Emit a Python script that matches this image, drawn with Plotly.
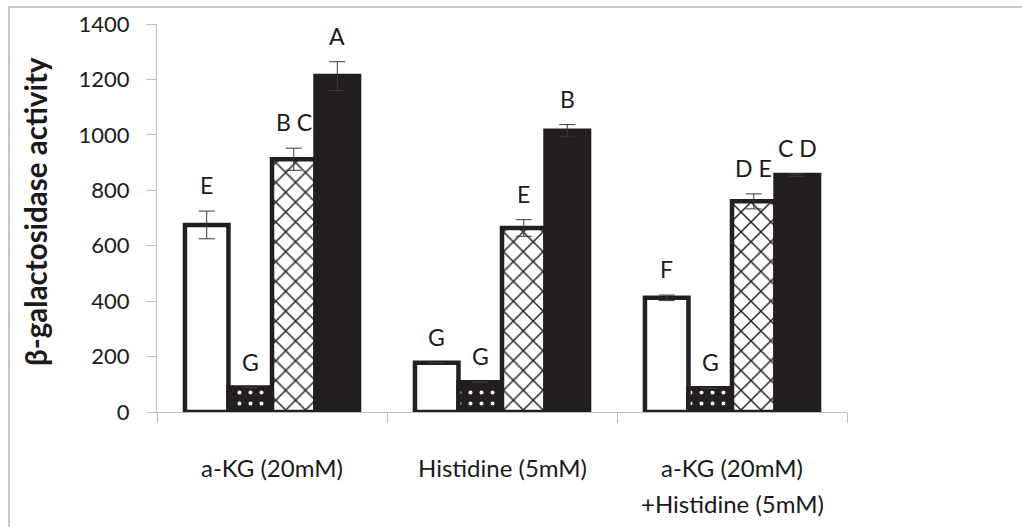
import plotly.graph_objects as go

categories = ["a-KG (20mM)", "Histidine (5mM)", "a-KG (20mM)<br>+Histidine (5mM)"]
series_names = ["white", "dotted", "cross", "black"]
values = {
    "white": [675, 178, 412],
    "dotted": [88, 107, 86],
    "cross": [912, 664, 760],
    "black": [1212, 1015, 855],
}
errors = {
    "white": [50, 0, 10],
    "dotted": [0, 0, 0],
    "cross": [40, 30, 27],
    "black": [52, 22, 5],
}
letters = {
    "white": ["E", "G", "F"],
    "dotted": ["G", "G", "G"],
    "cross": ["B C", "E", "D E"],
    "black": ["A", "B", "C D"],
}
y_ticks = [0, 200, 400, 600, 800, 1000, 1200, 1400]

INK = "#231f20"
FONT = "Lato"

styles = {
    "white": dict(color="white", line=dict(color=INK, width=4.5)),
    "dotted": dict(color=INK, line=dict(color=INK, width=4.5),
                   pattern=dict(shape=".", bgcolor=INK, fgcolor="white", size=11, solidity=0.1, fillmode="replace")),
    "cross": dict(color="white", line=dict(color=INK, width=4.5),
                  pattern=dict(shape="x", bgcolor="white", fgcolor=INK, size=14, solidity=0.2, fillmode="replace")),
    "black": dict(color=INK, line=dict(color=INK, width=4.5)),
}

fig = go.Figure()
for s in series_names:
    fig.add_trace(go.Bar(
        x=categories, y=values[s], name=s,
        marker=styles[s],
        error_y=dict(type="data", array=errors[s], visible=True, color="#3a3a3a", thickness=1, width=8),
        showlegend=False,
    ))

plot_w = 1022 - 157 - 175
plot_h = 527 - 24 - 115
cat_w = plot_w / len(categories)
bargap = 0.243
bar_w = cat_w * (1 - bargap) / len(series_names)
annotations = []
for i, s in enumerate(series_names):
    off = (i - (len(series_names) - 1) / 2) * bar_w
    for j, c in enumerate(categories):
        annotations.append(dict(
            x=c, y=values[s][j] + errors[s][j], xref="x", yref="y",
            text=letters[s][j], showarrow=False, xshift=off, yshift=26,
            yanchor="middle", xanchor="center",
            font=dict(family=FONT, size=23, color="#1a1a1a"),
        ))

# category labels (as annotations so that line spacing matches)
for c in categories:
    for k, line in enumerate(c.split("<br>")):
        annotations.append(dict(
            x=c, y=0, xref="x", yref="paper", text=line, showarrow=False,
            xanchor="center", yanchor="middle", yshift=-(55 + 36 * k),
            font=dict(family=FONT, size=24, color="#1a1a1a"),
        ))

annotations.append(dict(
    x=(35 - 157) / plot_w, y=(218 - 212) / plot_h + 0.5, xref="paper", yref="paper",
    text="<b>β-galactosidase activity</b>", textangle=-90, showarrow=False,
    xanchor="center", yanchor="middle",
    font=dict(family=FONT, size=29.5, color="#1a1a1a"),
))

fig.update_layout(
    width=1022, height=527, autosize=False,
    margin=dict(l=157, r=175, t=24, b=115, autoexpand=False),
    paper_bgcolor="white", plot_bgcolor="white",
    barmode="group", bargap=bargap, bargroupgap=0.0,
    annotations=annotations,
    shapes=[dict(
        type="rect", xref="paper", yref="paper",
        x0=(9 - 157) / plot_w, x1=(1040 - 157) / plot_w,
        y0=-0.5, y1=1 + (24 - 7) / plot_h,
        line=dict(color="#b5b5b5", width=1.5), fillcolor="rgba(0,0,0,0)", layer="below",
    )],
    font=dict(family=FONT, size=22, color="#1a1a1a"),
)
fig.update_yaxes(
    range=[0, 1400], tickvals=y_ticks, showgrid=False, zeroline=False,
    showline=True, linecolor="#bfbfbf", linewidth=1,
    ticks="outside", ticklen=10, tickcolor="#bfbfbf", ticklabelstandoff=12,
    tickfont=dict(family=FONT, size=22, color="#1a1a1a"),
)
fig.update_xaxes(
    showgrid=False, showline=True, linecolor="#bfbfbf", linewidth=1,
    ticks="outside", tickson="boundaries", ticklen=10, tickcolor="#bfbfbf",
    showticklabels=False,
)

fig.write_html("out.html", config={"displayModeBar": False},
               post_script="document.body.style.margin='0';document.body.style.overflow='hidden';")
